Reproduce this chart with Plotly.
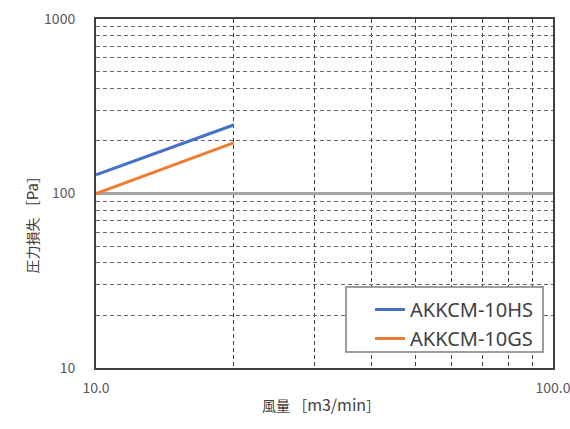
import plotly.graph_objects as go

flow = [10.0, 20.0]
loss_hs = [128, 247]
loss_gs = [100, 195]
series_names = ["AKKCM-10HS", "AKKCM-10GS"]
colors = ["#4472C4", "#ED7D31"]
x_ticks = [10, 100]
x_tick_labels = ["10.0", "100.0"]
y_ticks = [10, 100, 1000]
y_tick_labels = ["10", "100", "1000"]

FONT = "Noto Sans CJK JP, Noto Sans, sans-serif"

fig = go.Figure()
for name, ys, c in zip(series_names, [loss_hs, loss_gs], colors):
    fig.add_trace(go.Scatter(x=flow, y=ys, mode="lines", name=name,
                             line=dict(color=c, width=3)))

L, R, T, B = 96, 17, 19, 61
W, H = 570, 429
pw, ph = W - L - R, H - T - B

def px_x(p):
    return (p - L) / pw

def px_y(p):
    return (H - B - p) / ph

# legend box (white fill hides grid)
fig.add_shape(type="rect", xref="paper", yref="paper",
              x0=px_x(346), x1=px_x(543), y0=px_y(352), y1=px_y(287),
              line=dict(color="#7f7f7f", width=1.5), fillcolor="white",
              layer="above")

fig.update_layout(
    width=W, height=H,
    margin=dict(l=L, r=R, t=T, b=B, autoexpand=False),
    plot_bgcolor="white", paper_bgcolor="white",
    font=dict(family=FONT, color="#595959", size=13),
    showlegend=True,
    legend=dict(x=px_x(370), y=px_y(290), xanchor="left", yanchor="top",
                bgcolor="rgba(0,0,0,0)", borderwidth=0,
                font=dict(size=20, color="#404040", family="Noto Sans, sans-serif"),
                itemwidth=30, traceorder="normal"),
    xaxis=dict(type="log", range=[1, 2], tickvals=x_ticks, ticktext=x_tick_labels,
               automargin=False, ticklabeloverflow="allow",
               showline=True, mirror=True, linecolor="#404040", linewidth=2,
               showgrid=False, ticks="", zeroline=False, ticklabelstandoff=6,
               tickfont=dict(size=14, color="#595959"),
               minor=dict(dtick="D1", showgrid=True, griddash="4px,3px",
                          gridcolor="#404040", gridwidth=1, ticks="")),
    yaxis=dict(type="log", range=[1, 3], tickvals=y_ticks, ticktext=y_tick_labels,
               automargin=False, ticklabeloverflow="allow",
               showline=True, mirror=True, linecolor="#404040", linewidth=2,
               showgrid=True, gridcolor="#a6a6a6", gridwidth=3, ticks="",
               zeroline=False, ticklabelstandoff=16,
               tickfont=dict(size=14, color="#595959"),
               minor=dict(dtick="D1", showgrid=True, griddash="4px,3px",
                          gridcolor="#6a6a6a", gridwidth=1, ticks="")),
)

fig.add_annotation(text="風量 ［<span style='font-size:16px'>m3/min</span>］",
                   xref="paper", yref="paper",
                   x=px_x(321), y=px_y(418), showarrow=False,
                   font=dict(size=14, color="#404040", family=FONT))
fig.add_annotation(text="圧力損失 ［<span style='font-size:15px'>Pa</span>］",
                   xref="paper", yref="paper",
                   x=px_x(19), y=px_y(222), showarrow=False, textangle=-90,
                   font=dict(size=14, color="#404040", family=FONT))

fig.write_html("out.html", config={"displayModeBar": False},
               post_script="document.body.style.margin='0';")
